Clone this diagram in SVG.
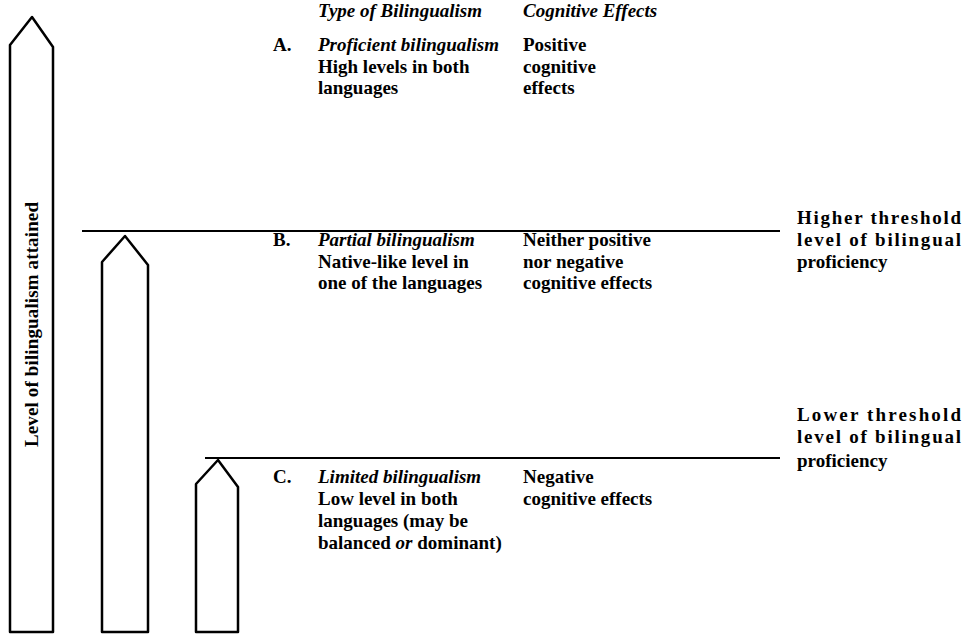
<svg xmlns="http://www.w3.org/2000/svg" width="966" height="634" viewBox="0 0 966 634">
<style>
.bar{fill:#fff;stroke:#000;stroke-width:2.5;stroke-linejoin:round}
.t{font-family:"Liberation Serif","Times New Roman",serif;font-size:19px;font-weight:bold;fill:#000}
.i{font-style:italic}
.ln{stroke:#000;stroke-width:2}
</style>
<rect width="966" height="634" fill="#fff"/>
<g id="arrows">
<g id="bar-tall"><polygon class="bar" points="10,632 10,45 32,17 53,47 53,632"/>
<text class="t" transform="translate(38,447) rotate(-90)" textLength="245" lengthAdjust="spacing">Level of bilingualism attained</text></g>
<g id="bar-mid"><polygon class="bar" points="102,632 102,262 125,236 148,265 148,632"/></g>
<g id="bar-short"><polygon class="bar" points="196,632 196,484 218,460 238,487 238,632"/></g>
</g>
<g id="connectors">
<line class="ln" x1="82" y1="231" x2="780" y2="231"/>
<line class="ln" x1="205" y1="458" x2="780" y2="458"/>
</g>
<g id="headers">
<text class="t i" x="318" y="17">Type of Bilingualism</text>
<text class="t i" x="523" y="17">Cognitive Effects</text>
</g>
<g id="row-a">
<text class="t" x="273" y="51">A.</text>
<text class="t i" x="318" y="51">Proficient bilingualism</text>
<text class="t" x="318" y="73">High levels in both</text>
<text class="t" x="318" y="94">languages</text>
<text class="t" x="523" y="51">Positive</text>
<text class="t" x="523" y="73">cognitive</text>
<text class="t" x="523" y="94">effects</text>
</g>
<g id="row-b">
<text class="t" x="273" y="246">B.</text>
<text class="t i" x="318" y="246">Partial bilingualism</text>
<text class="t" x="318" y="268">Native-like level in</text>
<text class="t" x="318" y="289">one of the languages</text>
<text class="t" x="523" y="246">Neither positive</text>
<text class="t" x="523" y="268">nor negative</text>
<text class="t" x="523" y="289">cognitive effects</text>
</g>
<g id="row-c">
<text class="t" x="273" y="483">C.</text>
<text class="t i" x="318" y="483">Limited bilingualism</text>
<text class="t" x="318" y="505">Low level in both</text>
<text class="t" x="318" y="527">languages (may be</text>
<text class="t" x="318" y="549">balanced <tspan font-style="italic">or</tspan> dominant)</text>
<text class="t" x="523" y="483">Negative</text>
<text class="t" x="523" y="505">cognitive effects</text>
</g>
<g id="higher-threshold">
<text class="t" x="797" y="224" textLength="164" lengthAdjust="spacing">Higher threshold</text>
<text class="t" x="797" y="246" textLength="164" lengthAdjust="spacing">level of bilingual</text>
<text class="t" x="797" y="268">proficiency</text>
</g>
<g id="lower-threshold">
<text class="t" x="797" y="421" textLength="164" lengthAdjust="spacing">Lower threshold</text>
<text class="t" x="797" y="443" textLength="164" lengthAdjust="spacing">level of bilingual</text>
<text class="t" x="797" y="467">proficiency</text>
</g>
</svg>
